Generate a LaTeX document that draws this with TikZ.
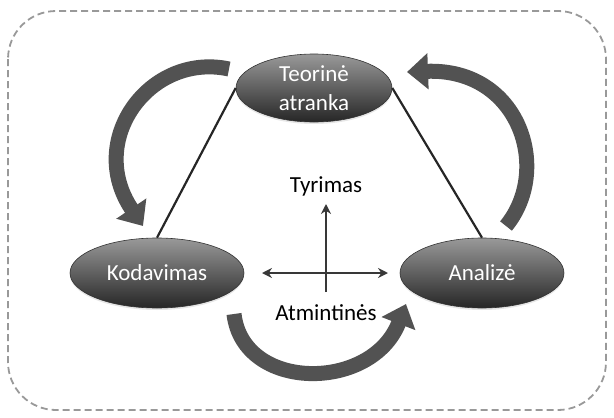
\documentclass[tikz,border=0pt]{standalone}
\usepackage{fontspec}
\setmainfont{Carlito}
\usetikzlibrary{shapes.geometric,arrows.meta,shadows}
\begin{document}
\begin{tikzpicture}[x=1pt,y=-1pt,
  phase/.style={ellipse, draw=black!80, line width=0.6pt,
    top color=black!40, bottom color=black!85, inner sep=0pt,
    drop shadow={opacity=0.2, shadow xshift=0pt, shadow yshift=-2pt}},
  phaselabel/.style={text=white, font=\fontsize{23}{29}\selectfont, align=center, inner sep=0pt},
  caption/.style={text=black, font=\fontsize{23}{29}\selectfont, inner sep=0pt},
  link/.style={draw=black!85, line width=2.2pt},
  axis/.style={draw=black!78, line width=2.7pt},
  axistip/.style={-{Stealth[length=10pt,width=10pt]}},
  cyclearrow/.style={draw=black!68, line width=15pt, -{Triangle[length=21pt,width=35pt]}},
  frame/.style={draw=black!40, line width=1.8pt, dash pattern=on 7pt off 4pt, rounded corners=48pt}]

\useasboundingbox (0,0) rectangle (614,418);

% dashed outer frame
\draw[frame] (8,11) rectangle (606,410);

% the three phases
\node[phase, minimum width=156pt, minimum height=68pt] (top) at (314,88) {};
\node[phase, minimum width=174pt, minimum height=70pt] (kod) at (157,273) {};
\node[phase, minimum width=164pt, minimum height=70pt] (ana) at (482,273) {};

\node[phaselabel] (toptext) at (top.center) {Teorinė\\atranka};
\node[phaselabel] (kodtext) at (kod.center) {Kodavimas};
\node[phaselabel] (anatext) at (ana.center) {Analizė};

% links between the phases
\draw[link] (top.west) -- (kod.north);
\draw[link] (top.east) -- (ana.north);

% cycle arrows
\coordinate (c1s) at (229,69);
\coordinate (c1e) at (143,226);
\draw[cyclearrow] (c1s) .. controls (150,52) and (85,140) .. (c1e);

\coordinate (c2s) at (506,226);
\coordinate (c2e) at (407,72);
\draw[cyclearrow] (c2s) .. controls (552,170) and (520,68) .. (c2e);

\coordinate (c3s) at (234,314);
\coordinate (c3e) at (406,304);
\draw[cyclearrow] (c3s) .. controls (243,392) and (372,392) .. (c3e);

% central axes
\node[caption] (ty) at (326,186) {Tyrimas};
\node[caption] (at) at (326,313) {Atmintinės};
\coordinate (hl) at (262,273);
\coordinate (hr) at (388,273);
\coordinate (vb) at (326,292);
\coordinate (vt) at (326,204);
\draw[axis, {Stealth[length=10pt,width=10pt]}-{Stealth[length=10pt,width=10pt]}] (hl) -- (hr);
\draw[axis, axistip] (vb) -- (vt);
\end{tikzpicture}
\end{document}
